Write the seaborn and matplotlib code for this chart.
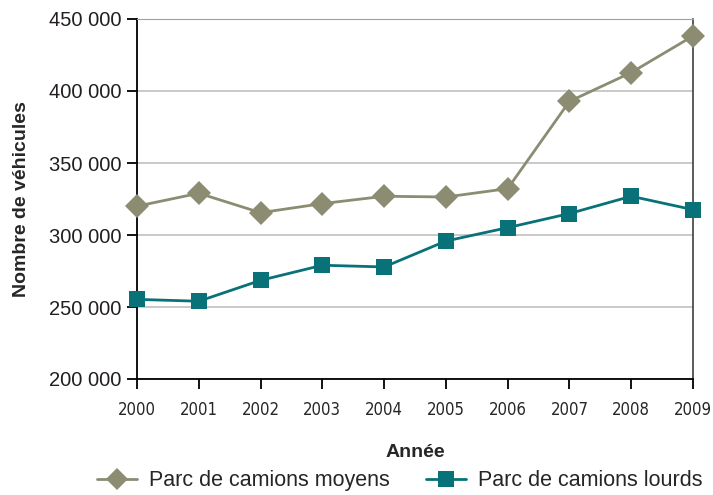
import matplotlib
matplotlib.use("Agg")
import matplotlib.pyplot as plt
import matplotlib.ticker as mticker
from matplotlib import font_manager
import pandas as pd
import seaborn as sns

# data
years = [2000, 2001, 2002, 2003, 2004, 2005, 2006, 2007, 2008, 2009]
moyens = [320000, 329000, 315500, 321800, 326900, 326400, 332200, 392800, 412800, 438200]
lourds = [255300, 254000, 268500, 279000, 277800, 295800, 305100, 314900, 326900, 317600]
series_names = ["Parc de camions moyens", "Parc de camions lourds"]
y_ticks = [200000, 250000, 300000, 350000, 400000, 450000]

df = pd.concat([
    pd.DataFrame({"Année": years, "val": moyens, "serie": series_names[0]}),
    pd.DataFrame({"Année": years, "val": lourds, "serie": series_names[1]}),
])

sns.set_style("white")
plt.rcParams["font.family"] = ["Liberation Sans", "DejaVu Sans"]

names = {f.name for f in font_manager.fontManager.ttflist}
if "Liberation Sans Narrow" in names:
    narrow = dict(fontfamily="Liberation Sans Narrow", fontsize=13)
else:
    narrow = dict(fontfamily="DejaVu Sans", fontstretch="condensed", fontsize=12)

fig = plt.figure(figsize=(7.13, 4.95), dpi=100)
ax = fig.add_axes([137 / 713, 1 - 379 / 495, (693 - 137) / 713, (379 - 19) / 495])

colors = {series_names[0]: "#8b8c72", series_names[1]: "#087278"}
sns.lineplot(data=df, x="Année", y="val", hue="serie", style="serie",
             palette=colors, markers=["D", "s"], dashes=False,
             markersize=12, markeredgewidth=0, linewidth=2, ax=ax, legend=False)
for ln in ax.lines:
    ln.set_clip_on(False)
    ln.set_zorder(3)

ax.set_xlim(2000, 2009)
ax.set_ylim(200000, 450000)
ax.set_xticks(years)
ax.set_xticklabels([str(y) for y in years], **narrow)
ax.set_yticks(y_ticks)
ax.yaxis.set_major_formatter(mticker.FuncFormatter(lambda v, p: f"{int(v):,}".replace(",", " ")))
ax.tick_params(axis="y", labelsize=14.5, length=7, width=1.3, color="black", direction="out",
               left=True, labelcolor="#231f20", pad=4)
ax.tick_params(axis="x", length=7, width=1.3, color="black", direction="out", bottom=True, pad=9)
ax.grid(axis="y", color="#c0c0c0", linewidth=1.2)
ax.set_axisbelow(True)
for s in ["left", "bottom"]:
    ax.spines[s].set_color("black")
    ax.spines[s].set_linewidth(1.3)
ax.spines["top"].set_color("#a0a0a0")
ax.spines["right"].set_color("#404040")
ax.spines["right"].set_linewidth(1.2)

ax.set_xlabel("Année", fontsize=14, fontweight="bold", labelpad=18)
ax.set_ylabel("Nombre de véhicules", fontsize=14, fontweight="bold", labelpad=14)

handles = [plt.Line2D([], [], color=colors[n], marker=m, markersize=11, linewidth=2, markeredgewidth=0)
           for n, m in zip(series_names, ["D", "s"])]
fig.legend(handles, series_names, loc="lower center", bbox_to_anchor=(0.561, -0.032), ncol=2,
           frameon=False, fontsize=15.5, handlelength=1.85, columnspacing=1.7, handletextpad=0.55)

fig.savefig("out.png", dpi=100)
